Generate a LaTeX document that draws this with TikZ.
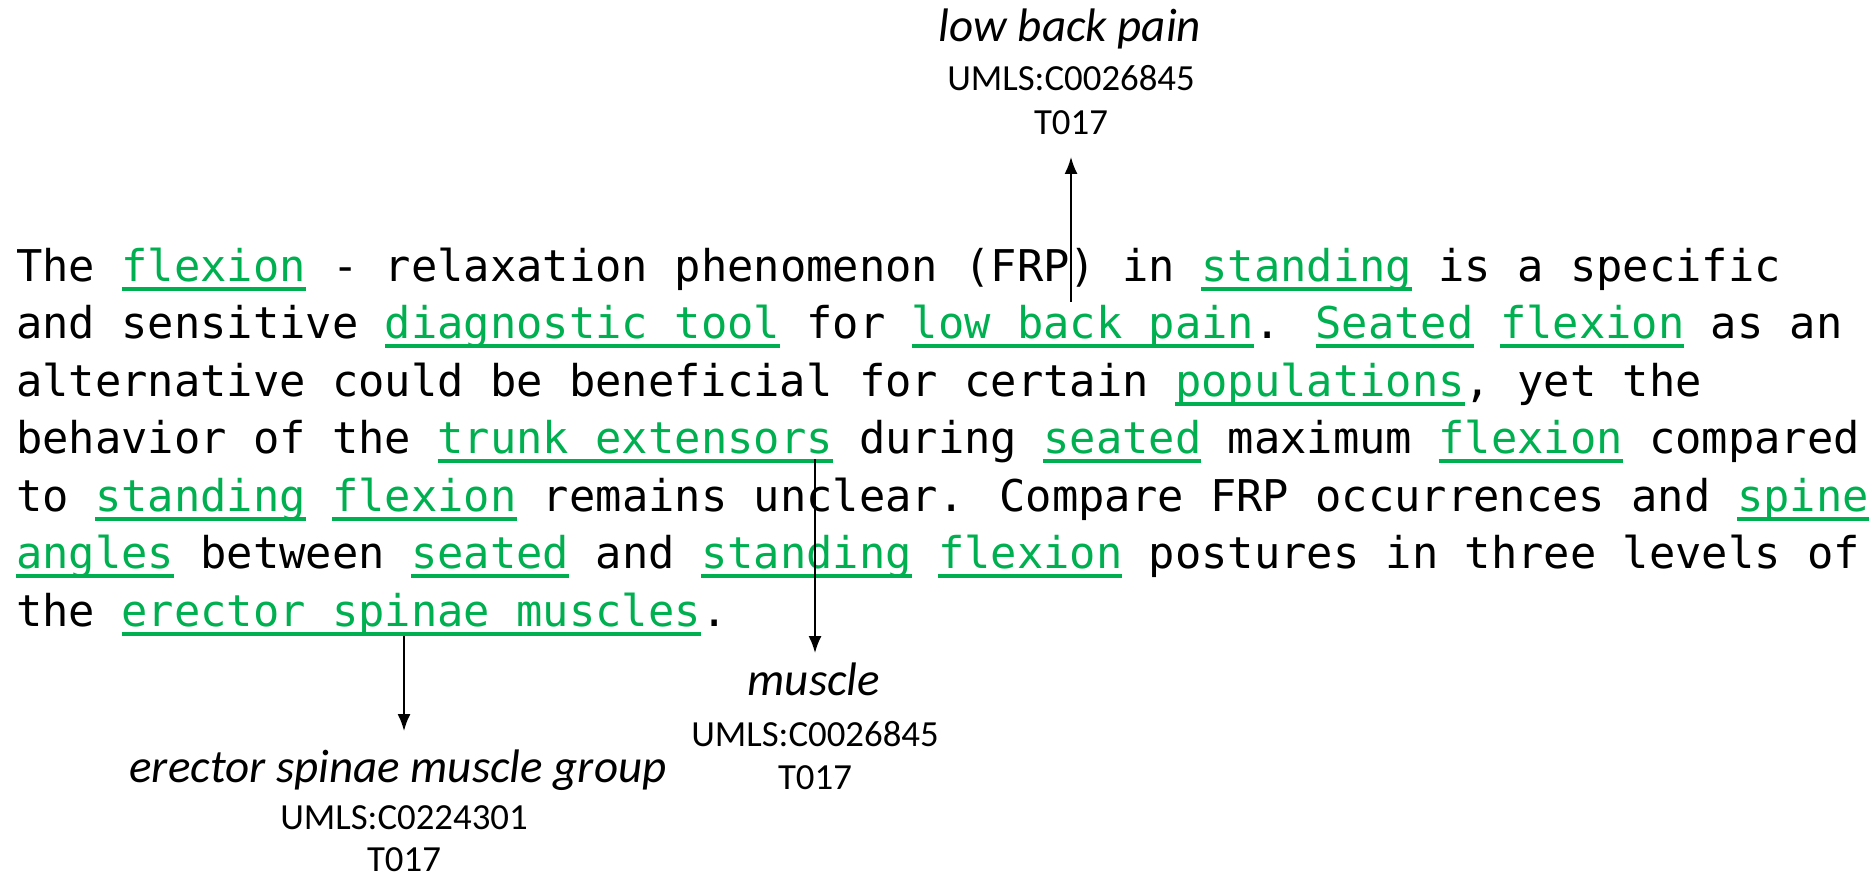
\documentclass[tikz,border=0pt]{standalone}
\usepackage{fontspec}
\usetikzlibrary{arrows.meta}
\setmainfont{Carlito}
\newfontfamily\abstractfont{DejaVu Sans Mono}
\definecolor{termgreen}{HTML}{00B050}
\newsavebox{\termbox}
\newcommand{\term}[1]{\textcolor{termgreen}{\sbox{\termbox}{#1}\rlap{\vrule width \wd\termbox height -5.5pt depth 9.5pt}\usebox{\termbox}}}

\begin{document}
\begin{tikzpicture}[x=1pt, y=-1pt,
    textline/.style={anchor=base west, inner sep=0pt, font=\abstractfont\fontsize{43.75}{57.5}\selectfont},
    concept/.style={anchor=base, inner sep=0pt, font=\fontsize{47}{50}\selectfont\itshape},
    cui/.style={anchor=base, inner sep=0pt, font=\fontsize{36.8}{40}\selectfont},
    link/.style={line width=1.8pt, -{Latex[length=17pt, width=13pt]}}]
    \useasboundingbox (0,0) rectangle (1870,877);

    % abstract
    \node[textline] (line1) at (16,281) {The \term{flexion} - relaxation phenomenon (FRP) in \term{standing} is a specific};
    \node[textline] (line2) at (16,338.5) {and sensitive \term{diagnostic tool} for \term{low back pain}. \term{Seated} \term{flexion} as an};
    \node[textline] (line3) at (16,396) {alternative could be beneficial for certain \term{populations}, yet the};
    \node[textline] (line4) at (16,453.5) {behavior of the \term{trunk extensors} during \term{seated} maximum \term{flexion} compared};
    \node[textline] (line5) at (16,511) {to \term{standing} \term{flexion} remains unclear. Compare FRP occurrences and \term{spine}};
    \node[textline] (line6) at (16,568.5) {\term{angles} between \term{seated} and \term{standing} \term{flexion} postures in three levels of};
    \node[textline] (line7) at (16,626) {the \term{erector spinae muscles}.};

    % concepts
    \node[concept] (lbp) at (1070,42) {low back pain};
    \node[cui] (lbpid) at (1071,91) {UMLS:C0026845};
    \node[cui] (lbptype) at (1071,135) {T017};

    \node[concept] (muscle) at (814,695) {muscle};
    \node[cui] (muscleid) at (815,746) {UMLS:C0026845};
    \node[cui] (muscletype) at (815,789) {T017};

    \node[concept] (esm) at (398,782) {erector spinae muscle group};
    \node[cui] (esmid) at (404,829) {UMLS:C0224301};
    \node[cui] (esmtype) at (404,871) {T017};

    \coordinate (lbpsrc) at (1071,302);
    \coordinate (musclesrc) at (815,459);
    \coordinate (esmsrc) at (404,636);

    \draw[link] (lbpsrc) -- ([yshift=-22pt]lbpsrc |- lbptype.base);
    \draw[link] (musclesrc) -- ([yshift=42pt]musclesrc |- muscle.base);
    \draw[link] (esmsrc) -- ([yshift=51pt]esmsrc |- esm.base);
\end{tikzpicture}
\end{document}
